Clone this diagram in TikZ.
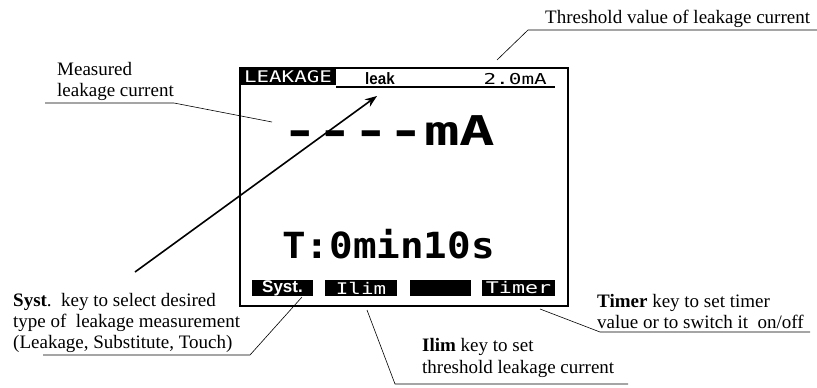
\documentclass[tikz,border=0pt]{standalone}
\usepackage{fontspec}
\usepackage{graphicx}
\setmainfont{Liberation Serif}
\newfontfamily\lcdfont{DejaVu Sans Mono}
\newfontfamily\lcdsans{Liberation Sans}
\usetikzlibrary{arrows.meta}

\begin{document}
\begin{tikzpicture}[
        x=1pt,y=-1pt,
        note/.style={font=\fontsize{19}{21}\selectfont,align=left,anchor=north west,inner sep=0pt},
        ldr/.style={line width=0.6pt},
        key/.style={fill=black,text=white,inner sep=0pt,minimum height=16pt},
        lcd/.style={font=\lcdfont\fontsize{16}{16}\selectfont,inner sep=0pt}
    ]

    \useasboundingbox (0,0) rectangle (817,388);

    % display
    \node[draw,line width=1.6pt,minimum width=328pt,minimum height=238pt,inner sep=0pt] (screen) at (404,187) {};
    \node[key,lcd,minimum width=96pt,minimum height=17pt] (head) at (288,76.5) {\scalebox{1.3}[1]{LEAKAGE}};
    \node[font=\lcdsans\bfseries\fontsize{16.5}{16.5}\selectfont,anchor=base west,inner sep=0pt] (leak) at (365,84.5) {\scalebox{0.92}[1]{leak}};
    \node[lcd,font=\lcdfont\fontsize{15}{15}\selectfont,anchor=base east] (limit) at (547,84) {\scalebox{1.4}[1]{2.0mA}};
    \coordinate (hline) at (555,87);
    \draw[line width=1.2pt] (head.east |- hline) -- (hline);

    \node[font=\lcdfont\bfseries\fontsize{41}{41}\selectfont,anchor=base west,inner sep=0pt] (value) at (282,145) {\scalebox{1.44}[1]{----mA}};
    \node[font=\lcdfont\bfseries\fontsize{36}{36}\selectfont,anchor=base west,inner sep=0pt] (time) at (282,258) {\scalebox{1.09}[1]{T:0min10s}};

    \node[key,minimum width=61pt,font=\lcdsans\bfseries\fontsize{17}{17}\selectfont] (systkey) at (282.5,288) {Syst.};
    \node[key,lcd,minimum width=72pt] (ilimkey) at (361,288) {\scalebox{1.3}[1]{Ilim}};
    \node[key,minimum width=61pt] (blankkey) at (440.5,288) {};
    \node[key,lcd,minimum width=73pt] (timerkey) at (518.5,288) {\scalebox{1.35}[1]{Timer}};

    % notes
    \node[note] (meas) at (57,62) {Measured\\leakage current};
    \node[note] (thr) at (545,10) {Threshold value of leakage current};
    \node[note] (syst) at (13,293) {\textbf{Syst}.\ \ key to select desired\\type of \ leakage measurement\\(Leakage, Substitute, Touch)};
    \node[note] (timer) at (597,294) {\textbf{Timer} key to set timer\\value or to switch it \ on/off};
    \node[note,font=\fontsize{19}{22.5}\selectfont] (ilim) at (422,338) {\textbf{Ilim} key to set\\threshold leakage current};

    \coordinate (measL) at (45,103);
    \coordinate (measpt) at (272,122);
    \coordinate (thrL) at (528,30);
    \coordinate (thrR) at (817,30);
    \coordinate (thrpt) at (497,60);
    \coordinate (systL) at (43,355);
    \coordinate (systR) at (250,355);
    \coordinate (systpt) at (302,297);
    \coordinate (ilimpt) at (367,310);
    \coordinate (ilimL) at (395,384);
    \coordinate (ilimR) at (628,384);
    \coordinate (timerpt) at (540,309);
    \coordinate (timerL) at (600,332);
    \coordinate (timerR) at (810,332);
    \coordinate (tail) at (135,272);
    \coordinate (tip) at (377,96);

    \draw[ldr] (measL) -- (measL -| meas.east) -- (measpt);
    \draw[ldr] (thrR) -- (thrL) -- (thrpt);
    \draw[ldr] (systL) -- (systR) -- (systpt);
    \draw[ldr] (ilimpt) -- (ilimL) -- (ilimR);
    \draw[ldr] (timerpt) -- (timerL) -- (timerR);
    \draw[line width=1.6pt,-{Stealth[length=12pt,width=9pt]}] (tail) -- (tip);

\end{tikzpicture}
\end{document}
